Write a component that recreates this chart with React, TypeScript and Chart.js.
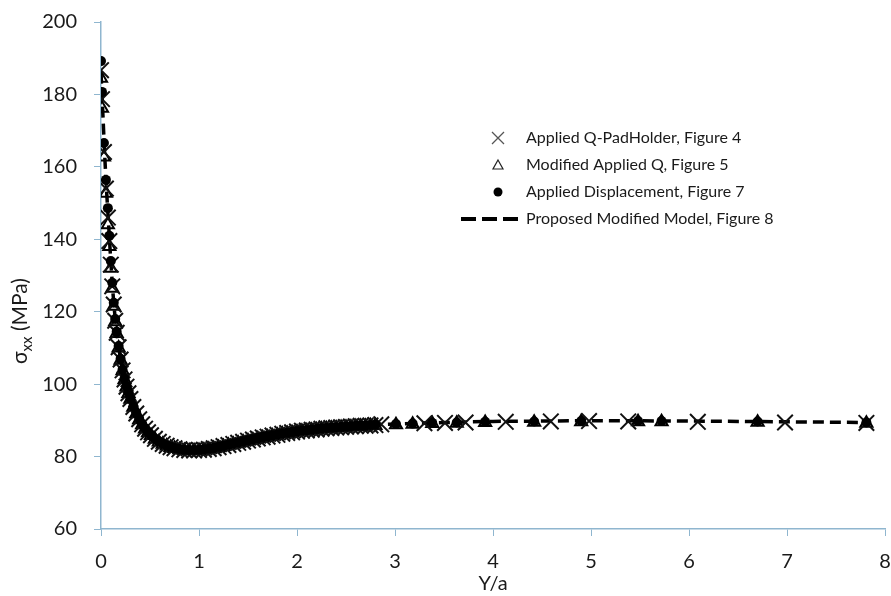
import React, { useEffect, useRef } from 'react';
import { Chart, registerables } from 'chart.js';

Chart.register(...registerables);

// ---------- data ----------
const xTicks = [0, 1, 2, 3, 4, 5, 6, 7, 8];
const yTicks = [60, 80, 100, 120, 140, 160, 180, 200];

// dense sampling positions shared by the three FE series
const xDense = [
  0, 0.01, 0.03, 0.05, 0.07, 0.085, 0.1, 0.115, 0.13, 0.145, 0.16, 0.18, 0.2, 0.22, 0.24, 0.26,
  0.28, 0.3, 0.33, 0.36, 0.39, 0.42, 0.45, 0.48, 0.51, 0.55, 0.59, 0.63, 0.67, 0.71, 0.75, 0.8,
  0.85, 0.9, 0.95, 1.0, 1.05, 1.1, 1.15, 1.2, 1.25, 1.3, 1.35, 1.4, 1.45, 1.5, 1.55, 1.6,
  1.65, 1.7, 1.75, 1.8, 1.85, 1.9, 1.95, 2.0, 2.05, 2.1, 2.15, 2.2, 2.25, 2.3, 2.35, 2.4,
  2.45, 2.5, 2.55, 2.6, 2.65, 2.7, 2.75, 2.8,
];

// Applied Displacement, Figure 7 (filled circles)
const dispDense = [
  189.2, 180.7, 166.6, 156.4, 148.6, 141.0, 134.0, 128.0, 122.5, 118.0, 114.5, 110.5, 107.0, 104.0, 101.5, 99.5,
  97.6, 96.0, 93.8, 92.0, 90.4, 89.0, 87.8, 86.8, 86.0, 85.0, 84.2, 83.6, 83.1, 82.7, 82.4, 82.1,
  81.9, 81.8, 81.8, 81.9, 82.0, 82.2, 82.4, 82.7, 83.0, 83.3, 83.6, 83.9, 84.2, 84.5, 84.8, 85.1,
  85.4, 85.6, 85.9, 86.1, 86.4, 86.6, 86.8, 87.0, 87.2, 87.3, 87.5, 87.6, 87.8, 87.9, 88.0, 88.1,
  88.2, 88.3, 88.4, 88.5, 88.6, 88.6, 88.7, 88.8,
];
// Applied Q-PadHolder, Figure 4 (crosses)
const padDense = [
  186.7, 178.7, 164.1, 154.0, 146.0, 139.5, 133.0, 127.0, 122.0, 117.5, 114.2, 110.2, 106.8, 103.8, 101.3, 99.3,
  97.5, 95.9, 93.7, 91.9, 90.3, 88.9, 87.7, 86.7, 85.9, 84.9, 84.1, 83.5, 83.0, 82.6, 82.3, 82.0,
  81.8, 81.7, 81.7, 81.8, 81.9, 82.1, 82.3, 82.6, 82.9, 83.2, 83.5, 83.8, 84.1, 84.4, 84.7, 85.0,
  85.3, 85.5, 85.8, 86.0, 86.3, 86.5, 86.7, 86.9, 87.1, 87.2, 87.4, 87.5, 87.7, 87.8, 87.9, 88.0,
  88.1, 88.2, 88.3, 88.4, 88.5, 88.5, 88.6, 88.7,
];
// Modified Applied Q, Figure 5 (triangles)
const modQDense = [
  184.5, 176.2, 162.7, 152.7, 144.0, 138.0, 132.0, 126.5, 121.5, 117.2, 114.0, 110.0, 106.6, 103.7, 101.2, 99.2,
  97.4, 95.8, 93.6, 91.8, 90.2, 88.8, 87.6, 86.6, 85.8, 84.8, 84.0, 83.4, 82.9, 82.5, 82.2, 81.9,
  81.7, 81.6, 81.6, 81.7, 81.8, 82.0, 82.2, 82.5, 82.8, 83.1, 83.4, 83.7, 84.0, 84.3, 84.6, 84.9,
  85.2, 85.4, 85.7, 85.9, 86.2, 86.4, 86.6, 86.8, 87.0, 87.1, 87.3, 87.4, 87.6, 87.7, 87.8, 87.9,
  88.0, 88.1, 88.2, 88.3, 88.4, 88.4, 88.5, 88.6,
];

// sparse tails
const xSparsePad = [2.86, 3.3, 3.51, 3.72, 4.13, 4.59, 4.98, 5.38, 6.09, 6.98, 7.81];
const padSparse = [88.9, 89.2, 89.3, 89.4, 89.6, 89.7, 89.8, 89.7, 89.6, 89.4, 89.3];
const xSparseOther = [3.01, 3.18, 3.38, 3.63, 3.92, 4.42, 4.9, 5.48, 5.72, 6.7, 7.81];
const dispSparse = [89.0, 89.1, 89.3, 89.4, 89.6, 89.7, 89.8, 89.8, 89.8, 89.7, 89.4];
const modQSparse = [88.8, 88.9, 89.1, 89.2, 89.4, 89.5, 89.6, 89.6, 89.6, 89.5, 89.2];

// Proposed Modified Model, Figure 8 (dashed line)
const modelX = [
  0, 0.01, 0.02, 0.04, 0.06, 0.08, 0.1, 0.13, 0.16, 0.2, 0.25, 0.3, 0.35, 0.4, 0.5, 0.6, 0.7, 0.8,
  0.9, 1.0, 1.2, 1.4, 1.6, 1.8, 2.0, 2.3, 2.6, 3.0, 3.5, 4.0, 4.5, 5.0, 6.0, 7.0, 7.85,
];
const modelY = [
  186, 180, 174, 162, 152, 143, 134, 122.5, 114.5, 107, 100.5, 96, 93, 90.4, 86.6, 84.4, 83, 82.2,
  81.9, 81.9, 82.7, 83.9, 85.1, 86.2, 87, 87.9, 88.5, 89, 89.4, 89.7, 89.8, 89.9, 89.8, 89.6, 89.4,
];

const seriesNames = [
  'Applied Q-PadHolder, Figure 4',
  'Modified Applied Q, Figure 5',
  'Applied Displacement, Figure 7',
  'Proposed Modified Model, Figure 8',
];

// ---------- styling ----------
const FONT = 'Lato, "Liberation Sans", sans-serif';
const AXIS_COLOR = '#8fb6cf';
const TEXT_COLOR = '#1a1a1a';

const pts = (xs: number[], ys: number[]) => xs.map((x, i) => ({ x, y: ys[i] }));

const zeroPad = (s: any) => {
  s.paddingLeft = 0;
  s.paddingRight = 0;
  s.paddingTop = 0;
  s.paddingBottom = 0;
};

const yTitlePlugin = {
  id: 'yTitle',
  afterDraw(chart: any) {
    const ctx = chart.ctx;
    ctx.save();
    ctx.translate(20, 321);
    ctx.rotate(-Math.PI / 2);
    ctx.fillStyle = TEXT_COLOR;
    ctx.textBaseline = 'alphabetic';
    const big = `21px ${FONT}`;
    const small = `15px ${FONT}`;
    const parts: [string, string, number][] = [
      ['σ', big, 0],
      ['xx', small, 5],
      [' (MPa)', big, 0],
    ];
    let total = 0;
    parts.forEach(([t, f]) => {
      ctx.font = f;
      total += ctx.measureText(t).width;
    });
    let x = -total / 2;
    parts.forEach(([t, f, dy]) => {
      ctx.font = f;
      ctx.fillText(t, x, 7 + dy);
      x += ctx.measureText(t).width;
    });
    ctx.restore();
  },
};

const legendPlugin = {
  id: 'customLegend',
  afterDraw(chart: any) {
    const ctx = chart.ctx;
    const mx = 498;
    const tx = 526;
    const rows = [138, 165, 192, 219];
    ctx.save();
    ctx.font = `16px ${FONT}`;
    ctx.fillStyle = TEXT_COLOR;
    ctx.textBaseline = 'middle';
    // cross
    ctx.strokeStyle = '#555';
    ctx.lineWidth = 1.3;
    ctx.beginPath();
    ctx.moveTo(mx - 6, rows[0] - 6);
    ctx.lineTo(mx + 6, rows[0] + 6);
    ctx.moveTo(mx + 6, rows[0] - 6);
    ctx.lineTo(mx - 6, rows[0] + 6);
    ctx.stroke();
    // triangle
    ctx.strokeStyle = '#222';
    ctx.lineWidth = 1.2;
    ctx.beginPath();
    ctx.moveTo(mx, rows[1] - 5);
    ctx.lineTo(mx + 5, rows[1] + 4);
    ctx.lineTo(mx - 5, rows[1] + 4);
    ctx.closePath();
    ctx.stroke();
    // circle
    ctx.fillStyle = '#000';
    ctx.beginPath();
    ctx.arc(mx, rows[2], 4.5, 0, Math.PI * 2);
    ctx.fill();
    // dashed line
    ctx.strokeStyle = '#000';
    ctx.lineWidth = 4;
    ctx.setLineDash([15, 6]);
    ctx.beginPath();
    ctx.moveTo(461, rows[3]);
    ctx.lineTo(522, rows[3]);
    ctx.stroke();
    ctx.setLineDash([]);
    ctx.fillStyle = TEXT_COLOR;
    seriesNames.forEach((n, i) => ctx.fillText(n, tx, rows[i]));
    ctx.restore();
  },
};

export default function App() {
  const ref = useRef<HTMLCanvasElement | null>(null);

  useEffect(() => {
    if (!ref.current) return;
    const chart = new Chart(ref.current, {
      type: 'scatter',
      data: {
        datasets: [
          {
            label: seriesNames[3],
            data: pts(modelX, modelY),
            showLine: true,
            borderColor: '#000',
            borderWidth: 3.5,
            borderDash: [11, 6],
            pointRadius: 0,
            cubicInterpolationMode: 'monotone',
            order: 4,
          },
          {
            label: seriesNames[1],
            data: pts(xDense, modQDense).concat(pts(xSparseOther, modQSparse)),
            pointStyle: 'triangle',
            pointRadius: 7,
            borderColor: '#000',
            borderWidth: 2,
            backgroundColor: 'rgba(0,0,0,0)',
            order: 3,
          },
          {
            label: seriesNames[0],
            data: pts(xDense, padDense).concat(pts(xSparsePad, padSparse)),
            pointStyle: 'crossRot',
            pointRadius: 11,
            borderColor: '#111',
            borderWidth: 2,
            order: 2,
          },
          {
            label: seriesNames[2],
            data: pts(xDense, dispDense).concat(pts(xSparseOther, dispSparse)),
            pointStyle: 'circle',
            pointRadius: 5,
            borderWidth: 0,
            backgroundColor: '#000',
            order: 1,
          },
        ],
      },
      options: {
        animation: false,
        responsive: false,
        maintainAspectRatio: false,
        layout: { autoPadding: false, padding: { left: 0, right: 6, top: 22, bottom: 0 } },
        plugins: {
          legend: { display: false },
          tooltip: { enabled: false },
          title: { display: false },
        },
        scales: {
          x: {
            type: 'linear',
            min: 0,
            max: 8,
            afterBuildTicks: (s: any) => {
              s.ticks = xTicks.map((v) => ({ value: v }));
            },
            afterFit: (s: any) => {
              s.height = 67;
              zeroPad(s);
            },
            ticks: {
              font: { family: FONT, size: 20 },
              color: TEXT_COLOR,
              padding: 14,
              maxRotation: 0,
            },
            grid: {
              drawOnChartArea: false,
              drawTicks: true,
              tickLength: 7,
              color: AXIS_COLOR,
            },
            border: { display: true, color: AXIS_COLOR, width: 1.5 },
            title: {
              display: true,
              text: 'Y/a',
              font: { family: FONT, size: 20 },
              color: TEXT_COLOR,
              padding: { top: 0, bottom: 0 },
            },
          },
          y: {
            type: 'linear',
            min: 60,
            max: 200,
            afterBuildTicks: (s: any) => {
              s.ticks = yTicks.map((v) => ({ value: v }));
            },
            afterFit: (s: any) => {
              s.width = 101;
              zeroPad(s);
            },
            ticks: {
              font: { family: FONT, size: 20 },
              color: TEXT_COLOR,
              padding: 17,
            },
            grid: {
              drawOnChartArea: false,
              drawTicks: true,
              tickLength: 7,
              color: AXIS_COLOR,
            },
            border: { display: true, color: AXIS_COLOR, width: 1.5 },
          },
        },
      },
      plugins: [yTitlePlugin, legendPlugin],
    } as any);
    return () => chart.destroy();
  }, []);

  return (
    <div style={{ position: 'fixed', left: 0, top: 0, width: 891, height: 596, background: '#fff' }}>
      <canvas ref={ref} width={891} height={596} style={{ width: 891, height: 596, display: 'block' }} />
    </div>
  );
}
